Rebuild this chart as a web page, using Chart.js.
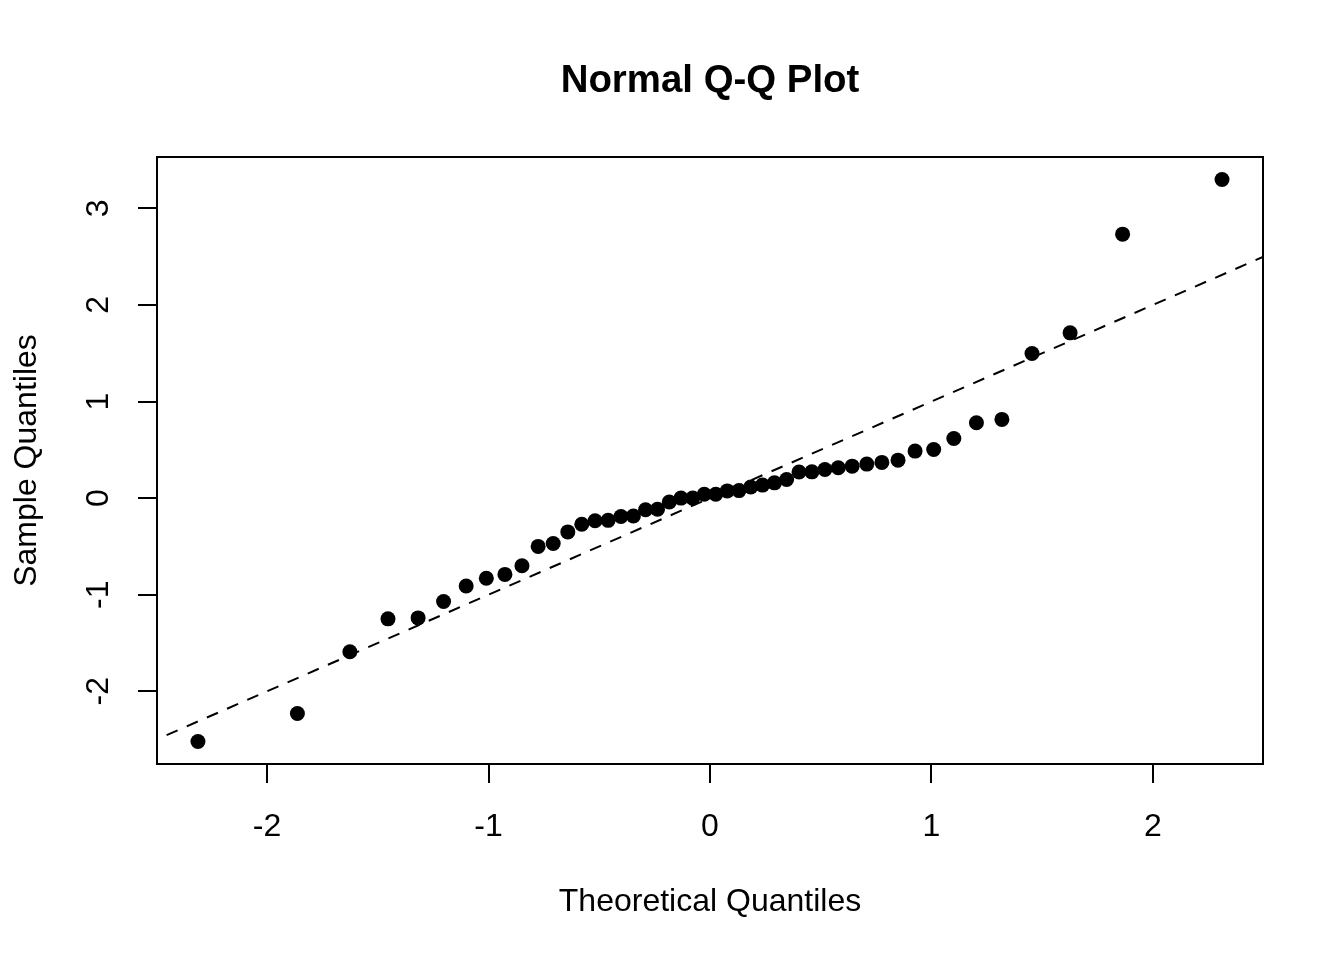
<!DOCTYPE html>
<html>
<head>
<meta charset="utf-8">
<script src="https://cdn.jsdelivr.net/npm/chart.js@4.4.1/dist/chart.umd.min.js"></script>
<style>
  html, body { margin: 0; padding: 0; background: #ffffff; }
  #wrap { width: 1344px; height: 960px; }
</style>
</head>
<body>
<div id="wrap"><canvas id="c" width="1344" height="960"></canvas></div>
<script>
// ---- data ----
const theoretical = [-2.312, -1.863, -1.626, -1.454, -1.318, -1.203, -1.101, -1.010, -0.926, -0.849,
  -0.776, -0.708, -0.642, -0.579, -0.519, -0.460, -0.402, -0.346, -0.291, -0.237,
  -0.184, -0.131, -0.078, -0.026, 0.026, 0.078, 0.131, 0.184, 0.237, 0.291,
  0.346, 0.402, 0.460, 0.519, 0.579, 0.642, 0.708, 0.776, 0.849, 0.926,
  1.010, 1.101, 1.203, 1.318, 1.454, 1.626, 1.863, 2.312];
const sample = [-2.52, -2.23, -1.59, -1.25, -1.24, -1.07, -0.91, -0.83, -0.79, -0.70,
  -0.50, -0.47, -0.35, -0.27, -0.235, -0.23, -0.19, -0.185, -0.12, -0.115,
  -0.04, 0.00, 0.00, 0.04, 0.04, 0.075, 0.078, 0.115, 0.135, 0.158,
  0.193, 0.27, 0.272, 0.297, 0.314, 0.331, 0.352, 0.37, 0.393, 0.487,
  0.504, 0.618, 0.78, 0.815, 1.498, 1.711, 2.733, 3.299];
const refLineX = [-3, 3];
const refLineY = [-3, 3];
const xTicks = [-2, -1, 0, 1, 2];
const yTicks = [-2, -1, 0, 1, 2, 3];
const titleText = 'Normal Q-Q Plot';
const xLabel = 'Theoretical Quantiles';
const yLabel = 'Sample Quantiles';

// R-style 4% axis extension
function extend(arr) {
  const mn = Math.min(...arr), mx = Math.max(...arr), d = (mx - mn) * 0.04;
  return [mn - d, mx + d];
}
const xr = extend(theoretical);
const yr = extend(sample);

const FONT = '"Liberation Sans", Arial, Helvetica, sans-serif';

// box around the plot region + main title centred over the plot region (as R does)
const boxPlugin = {
  id: 'box',
  afterDraw(chart) {
    const {ctx, chartArea: a} = chart;
    ctx.save();
    ctx.strokeStyle = '#000';
    ctx.lineWidth = 2;
    ctx.strokeRect(a.left, a.top, a.right - a.left, a.bottom - a.top);
    ctx.fillStyle = '#000';
    ctx.font = 'bold 38.4px ' + FONT;
    ctx.textAlign = 'center';
    ctx.textBaseline = 'middle';
    ctx.fillText(titleText, (a.left + a.right) / 2, 81);
    ctx.restore();
  }
};

new Chart(document.getElementById('c'), {
  type: 'scatter',
  data: {
    datasets: [
      {
        type: 'scatter',
        data: theoretical.map((x, i) => ({x: x, y: sample[i]})),
        backgroundColor: '#000',
        borderColor: '#000',
        borderWidth: 0,
        pointRadius: 7.5,
        pointHoverRadius: 7.5,
        order: 1
      },
      {
        type: 'line',
        data: refLineX.map((x, i) => ({x: x, y: refLineY[i]})),
        borderColor: '#000',
        borderWidth: 2,
        borderDash: [12, 10],
        pointRadius: 0,
        fill: false,
        order: 2
      }
    ]
  },
  options: {
    responsive: false,
    animation: false,
    devicePixelRatio: 1,
    layout: { padding: { top: 157, left: 0, right: 81, bottom: 0 } },
    plugins: {
      legend: { display: false },
      tooltip: { enabled: false },
      title: { display: false }
    },
    scales: {
      x: {
        type: 'linear',
        position: 'bottom',
        min: xr[0],
        max: xr[1],
        afterBuildTicks(scale) { scale.ticks = xTicks.map(v => ({value: v})); },
        afterFit(scale) { scale.height = 196; },
        border: { display: false },
        grid: { display: true, drawOnChartArea: false, drawTicks: true, tickLength: 19, color: '#000', lineWidth: 2 },
        ticks: { color: '#000', font: { family: FONT, size: 32 }, padding: 25, maxRotation: 0, autoSkip: false },
        title: { display: true, text: xLabel, color: '#000', font: { family: FONT, size: 32, lineHeight: 1.2 }, padding: { top: 0, bottom: 39 } }
      },
      y: {
        type: 'linear',
        position: 'left',
        min: yr[0],
        max: yr[1],
        afterBuildTicks(scale) { scale.ticks = yTicks.map(v => ({value: v})); },
        afterFit(scale) { scale.width = 157; },
        border: { display: false },
        grid: { display: true, drawOnChartArea: false, drawTicks: true, tickLength: 19, color: '#000', lineWidth: 2 },
        ticks: { color: '#000', font: { family: FONT, size: 32 }, padding: 25, minRotation: 90, maxRotation: 90, crossAlign: 'center', autoSkip: false },
        title: { display: true, text: yLabel, color: '#000', font: { family: FONT, size: 32, lineHeight: 1.2 }, padding: { top: 8, bottom: 0 } }
      }
    }
  },
  plugins: [boxPlugin]
});
</script>
</body>
</html>
